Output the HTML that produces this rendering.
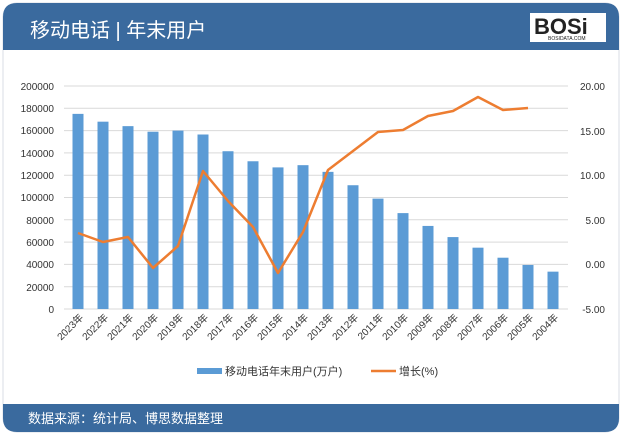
<!DOCTYPE html>
<html><head><meta charset="utf-8"><style>
body{margin:0;background:#fff;}
svg text{font-family:"Liberation Sans","Noto Sans CJK SC",sans-serif;}
</style></head><body>
<svg width="622" height="435" viewBox="0 0 622 435" xmlns="http://www.w3.org/2000/svg">
<rect x="0" y="0" width="622" height="435" fill="#fff"/>
<rect x="3" y="3" width="616" height="429" rx="14" fill="#fff" stroke="#d8dde4"/>
<path d="M3 50 L3 17 Q3 3 17 3 L605 3 Q619 3 619 17 L619 50 Z" fill="#3a6a9e"/>
<text x="30" y="37" font-size="20" fill="#fff">移动电话 | 年末用户</text>
<rect x="530" y="13" width="76" height="29" fill="#fff"/>
<text x="534" y="34" font-size="22" font-weight="bold" fill="#222">BOSi</text>
<text x="548" y="40" font-size="5" fill="#222">BOSIDATA.COM</text>
<path d="M3 404 L619 404 L619 418 Q619 432 605 432 L17 432 Q3 432 3 418 Z" fill="#3a6a9e"/>
<text x="28" y="423" font-size="13" fill="#fff">数据来源：统计局、博思数据整理</text>
<g stroke="#d9d9d9" stroke-width="1">
<line x1="64" y1="86" x2="568" y2="86"/><line x1="64" y1="108.3" x2="568" y2="108.3"/>
<line x1="64" y1="130.6" x2="568" y2="130.6"/><line x1="64" y1="152.9" x2="568" y2="152.9"/>
<line x1="64" y1="175.2" x2="568" y2="175.2"/><line x1="64" y1="197.5" x2="568" y2="197.5"/>
<line x1="64" y1="219.8" x2="568" y2="219.8"/><line x1="64" y1="242.1" x2="568" y2="242.1"/>
<line x1="64" y1="264.4" x2="568" y2="264.4"/><line x1="64" y1="286.7" x2="568" y2="286.7"/>
<line x1="64" y1="309" x2="568" y2="309"/>
</g>
<g font-size="10" fill="#333" text-anchor="end">
<text x="54" y="90">200000</text><text x="54" y="112">180000</text><text x="54" y="134">160000</text>
<text x="54" y="157">140000</text><text x="54" y="179">120000</text><text x="54" y="201">100000</text>
<text x="54" y="224">80000</text><text x="54" y="246">60000</text><text x="54" y="268">40000</text>
<text x="54" y="291">20000</text><text x="54" y="313">0</text>
</g>
<g font-size="10" fill="#333" text-anchor="end">
<text x="605" y="90">20.00</text><text x="605" y="135">15.00</text><text x="605" y="179">10.00</text>
<text x="605" y="224">5.00</text><text x="605" y="268">0.00</text><text x="605" y="313">-5.00</text>
</g>
<g fill="#5b9bd5" id="bars"></g>
<g id="labels" font-size="10" fill="#333"></g>
<polyline fill="none" stroke="#ed7d31" stroke-width="2.5" stroke-linejoin="round" points="78,233 103,242 128,237 153,268 178,246 203,171 228,201 253,227 278,273 303,232 328,170 353,151 378,132 403,130 428,116 453,111 478,97 503,110 528,108"/>
<rect x="197" y="368" width="25" height="6" fill="#5b9bd5"/>
<text x="225" y="375" font-size="11" fill="#333">移动电话年末用户(万户)</text>
<line x1="371" y1="371" x2="396" y2="371" stroke="#ed7d31" stroke-width="2.5"/>
<text x="399" y="375" font-size="11" fill="#333">增长(%)</text>
</svg>
<script>
var v=[175000,168000,164000,159000,160000,156500,141500,132500,127000,129000,123000,111000,99000,86000,74500,64500,55000,46000,39500,33500];
var ns="http://www.w3.org/2000/svg",b=document.getElementById("bars"),l=document.getElementById("labels");
for(var i=0;i<20;i++){var cx=78+25*i,h=v[i]/200000*223;
var r=document.createElementNS(ns,"rect");r.setAttribute("x",cx-5.5);r.setAttribute("y",309-h);r.setAttribute("width",11);r.setAttribute("height",h);b.appendChild(r);
var t=document.createElementNS(ns,"text");t.setAttribute("x",cx+6);t.setAttribute("y",318);t.setAttribute("text-anchor","end");t.setAttribute("transform","rotate(-45 "+(cx+6)+" 318)");t.textContent=(2023-i)+"年";l.appendChild(t);}
</script>
</body></html>
